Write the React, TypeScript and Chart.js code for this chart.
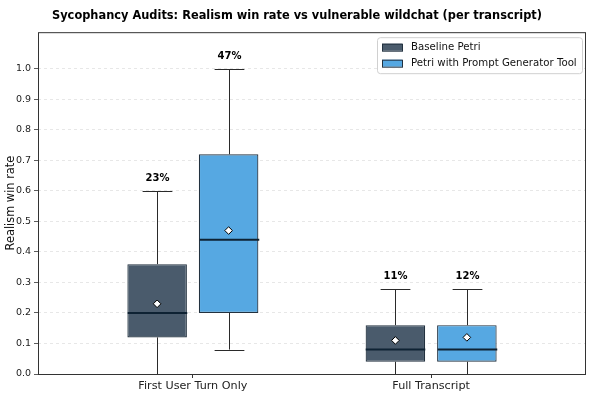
import { useEffect, useRef } from 'react'
import { Chart, registerables } from 'chart.js'

Chart.register(...registerables)

// group positions on the x axis (0 = first group, 1 = second group)
const groups = ['First User Turn Only', 'Full Transcript']
const series = ['Baseline Petri', 'Petri with Prompt Generator Tool']
const offsets = [-0.15, 0.15]

// box stats per series, one entry per group
const baseMin = [0.0, 0.0]
const baseQ1 = [0.12, 0.04]
const baseMedian = [0.2, 0.08]
const baseQ3 = [0.36, 0.16]
const baseMax = [0.6, 0.28]
const baseMean = [0.23, 0.11]

const toolMin = [0.08, 0.0]
const toolQ1 = [0.2, 0.04]
const toolMedian = [0.44, 0.08]
const toolQ3 = [0.72, 0.16]
const toolMax = [1.0, 0.28]
const toolMean = [0.47, 0.12]

const yTicks = [0, 0.1, 0.2, 0.3, 0.4, 0.5, 0.6, 0.7, 0.8, 0.9, 1.0]

const colors = ['#4a5b6c', '#56a8e2']
const edge = '#22313f'
const font = 'DejaVu Sans'

const stats = [
  { min: baseMin, q1: baseQ1, med: baseMedian, q3: baseQ3, max: baseMax, mean: baseMean },
  { min: toolMin, q1: toolQ1, med: toolMedian, q3: toolQ3, max: toolMax, mean: toolMean },
]

const boxExtras = {
  id: 'boxExtras',
  afterDatasetsDraw(chart: any) {
    const ctx = chart.ctx
    const y = chart.scales.y
    ctx.save()
    stats.forEach((s, d) => {
      const meta = chart.getDatasetMeta(d)
      meta.data.forEach((bar: any, i: number) => {
        const cx = Math.round(bar.x) + 0.5
        const half = bar.width / 2
        const pMin = y.getPixelForValue(s.min[i])
        const pMax = Math.round(y.getPixelForValue(s.max[i])) + 0.5
        const pQ1 = y.getPixelForValue(s.q1[i])
        const pQ3 = y.getPixelForValue(s.q3[i])
        const pMed = y.getPixelForValue(s.med[i])
        ctx.strokeStyle = '#2a2a2a'
        ctx.lineWidth = 1
        ctx.beginPath()
        ctx.moveTo(cx, pQ1)
        ctx.lineTo(cx, pMin)
        ctx.moveTo(cx, pQ3)
        ctx.lineTo(cx, pMax)
        ctx.moveTo(cx - half / 2, pMax)
        ctx.lineTo(cx + half / 2, pMax)
        if (s.min[i] > 0) {
          const pm = Math.round(pMin) + 0.5
          ctx.moveTo(cx - half / 2, pm)
          ctx.lineTo(cx + half / 2, pm)
        }
        ctx.stroke()
        ctx.strokeStyle = '#0e2233'
        ctx.lineWidth = 2
        ctx.beginPath()
        ctx.moveTo(cx - half, pMed)
        ctx.lineTo(cx + half, pMed)
        ctx.stroke()
        ctx.fillStyle = '#000'
        ctx.font = `bold 10px "${font}"`
        ctx.textAlign = 'center'
        ctx.textBaseline = 'middle'
        ctx.fillText(`${Math.round(s.mean[i] * 100)}%`, cx, pMax - 13)
      })
    })
    ctx.restore()
  },
  afterDraw(chart: any) {
    const ctx = chart.ctx
    const a = chart.chartArea
    ctx.save()
    ctx.strokeStyle = '#333'
    ctx.lineWidth = 1
    ctx.strokeRect(a.left + 0.5, a.top + 0.5, a.right - a.left - 1, a.bottom - a.top)
    // legend
    const lx = a.right - 209
    const ly = a.top + 5
    const w = 205
    const h = 36
    ctx.fillStyle = 'rgba(255,255,255,0.8)'
    ctx.strokeStyle = '#d0d0d0'
    ctx.beginPath()
    ctx.roundRect(lx + 0.5, ly + 0.5, w, h, 3)
    ctx.fill()
    ctx.stroke()
    ctx.font = `10.2px "${font}"`
    ctx.textAlign = 'left'
    ctx.textBaseline = 'middle'
    series.forEach((name, k) => {
      const ry = ly + 10 + k * 16
      ctx.fillStyle = colors[k]
      ctx.fillRect(lx + 5, ry - 3.5, 20, 7)
      ctx.strokeStyle = edge
      ctx.strokeRect(lx + 5.5, ry - 3, 20, 7)
      ctx.fillStyle = '#111'
      ctx.fillText(name, lx + 34, ry)
    })
    ctx.restore()
  },
}

const App = () => {
  const chartRef = useRef<HTMLCanvasElement>(null)
  const chartInstance = useRef<Chart | null>(null)

  useEffect(() => {
    if (!chartRef.current) return
    document.body.style.margin = '0'
    if (chartInstance.current) chartInstance.current.destroy()

    chartInstance.current = new Chart(chartRef.current, {
      type: 'bar',
      data: {
        datasets: [
          ...stats.map((s, d) => ({
            type: 'bar' as const,
            label: series[d],
            data: groups.map((_, i) => ({ x: i + offsets[d], y: [s.q1[i], s.q3[i]] })),
            backgroundColor: colors[d],
            borderColor: edge,
            borderWidth: 1.2,
            borderSkipped: false,
            grouped: false,
            categoryPercentage: 1,
            barPercentage: 0.833,
            order: 2,
          })),
          ...stats.map((s, d) => ({
            type: 'scatter' as const,
            label: series[d] + ' mean',
            data: groups.map((_, i) => ({ x: i + offsets[d], y: s.mean[i] })),
            pointStyle: 'rectRot',
            pointRadius: 3.8,
            pointBackgroundColor: '#fff',
            pointBorderColor: '#000',
            pointBorderWidth: 1,
            order: 0,
          })),
        ] as any,
      },
      options: {
        animation: false,
        responsive: false,
        layout: { padding: { left: 8, right: 9, top: 0, bottom: 0 } },
        plugins: {
          legend: { display: false },
          tooltip: { enabled: false },
          title: {
            display: true,
            text: 'Sycophancy Audits: Realism win rate vs vulnerable wildchat (per transcript)',
            color: '#000',
            font: { family: font, size: 11.4, weight: 'bold' },
            padding: { top: 9, bottom: 9.5 },
          },
        },
        scales: {
          x: {
            type: 'linear',
            min: -0.65,
            max: 1.65,
            offset: false,
            afterBuildTicks: (scale: any) => {
              scale.ticks = groups.map((_, i) => ({ value: i }))
            },
            afterFit: (scale: any) => {
              scale.height = 26
            },
            ticks: {
              callback: (v: any) => groups[v] ?? '',
              color: '#222',
              font: { family: font, size: 11.2 },
              padding: 1,
              maxRotation: 0,
            },
            grid: { drawOnChartArea: false, drawTicks: true, tickLength: 4, color: '#333', offset: false },
            border: { display: false },
          },
          y: {
            min: 0,
            max: 1.12,
            afterBuildTicks: (scale: any) => {
              scale.ticks = yTicks.map((v) => ({ value: v }))
            },
            afterFit: (scale: any) => {
              scale.width = 30
            },
            ticks: {
              callback: (v: any) => Number(v).toFixed(1),
              color: '#222',
              font: { family: font, size: 9.5 },
              padding: 3,
            },
            grid: { color: 'rgba(0,0,0,0.12)', tickColor: '#333', tickLength: 4, lineWidth: 0.8 },
            border: { display: false, dash: [3, 3] },
            title: {
              display: true,
              text: 'Realism win rate',
              color: '#111',
              font: { family: font, size: 11.4 },
              padding: { top: -4, bottom: 0 },
            },
          },
        },
      },
      plugins: [boxExtras],
    })

    return () => {
      if (chartInstance.current) {
        chartInstance.current.destroy()
        chartInstance.current = null
      }
    }
  }, [])

  return (
    <div style={{ width: 595, height: 400, background: '#fff' }}>
      <canvas ref={chartRef} width={595} height={400}></canvas>
    </div>
  )
}

export default App
